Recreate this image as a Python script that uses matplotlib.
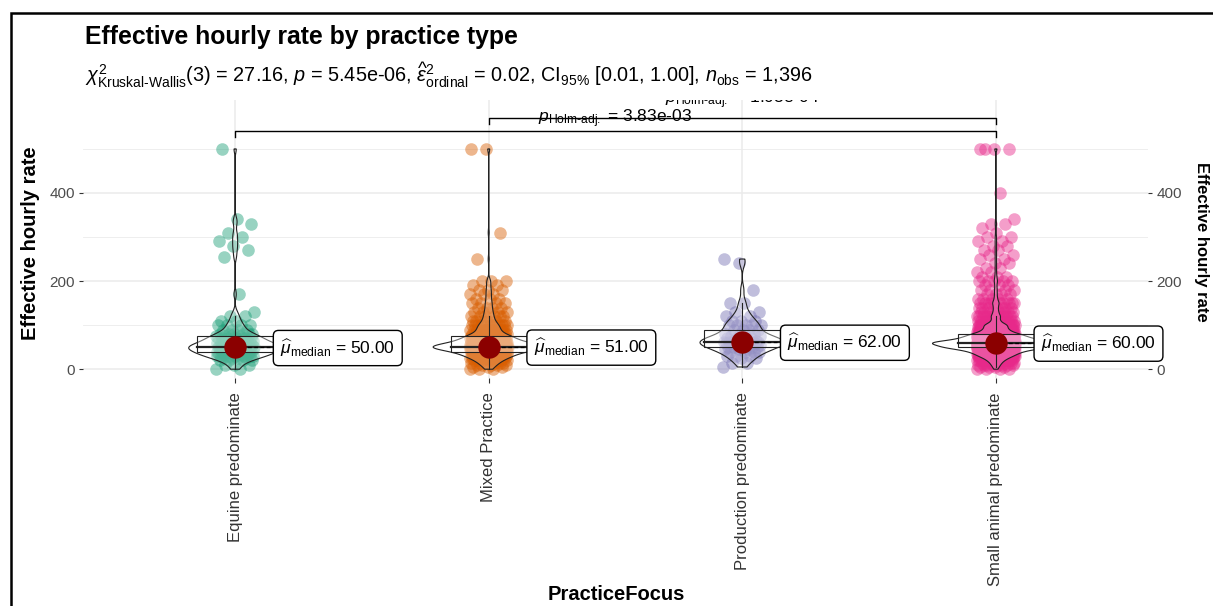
import numpy as np
import matplotlib
matplotlib.use("Agg")
import matplotlib.pyplot as plt
from matplotlib.patches import Rectangle, Polygon

plt.rcParams['font.family'] = ['Liberation Sans', 'DejaVu Sans']
plt.rcParams['mathtext.fontset'] = 'custom'
plt.rcParams['mathtext.rm'] = 'Liberation Sans'
plt.rcParams['mathtext.it'] = 'Liberation Sans:italic'
plt.rcParams['mathtext.bf'] = 'Liberation Sans:bold'
plt.rcParams['mathtext.sf'] = 'Liberation Sans'

# ---------------- data ----------------
categories = ["Equine predominate", "Mixed Practice",
              "Production predominate", "Small animal predominate"]
colors = ["#1B9E77", "#D95F02", "#7570B3", "#E7298A"]

equine_vals = [0, 10, 20, 25, 30, 35, 40, 45, 50, 55, 60, 65, 70, 75, 80, 90, 100,
               110, 120, 130, 170, 255, 270, 280, 290, 300, 310, 330, 340, 500]
equine_counts = [2, 3, 4, 4, 9, 6, 10, 6, 18, 5, 9, 4, 8, 4, 6, 4, 4,
                 2, 2, 1, 1, 1, 1, 1, 1, 1, 1, 1, 1, 1]

mixed_vals = [0, 5, 10, 15, 20, 25, 30, 35, 40, 45, 50, 51, 55, 60, 65, 70, 75, 80,
              90, 100, 110, 120, 130, 140, 150, 160, 170, 180, 190, 200, 250, 310, 500]
mixed_counts = [3, 3, 5, 6, 8, 10, 16, 14, 22, 20, 43, 20, 16, 24, 14, 18, 12, 12,
                14, 12, 7, 6, 5, 4, 4, 3, 3, 3, 2, 3, 1, 1, 2]

prod_vals = [5, 15, 25, 30, 40, 45, 50, 55, 60, 62, 65, 70, 75, 80, 90, 100, 110,
             120, 130, 150, 180, 240, 250]
prod_counts = [1, 2, 2, 3, 4, 3, 5, 3, 4, 8, 3, 4, 3, 3, 4, 5, 3,
               2, 2, 2, 1, 1, 1]

small_vals = [0, 5, 10, 15, 20, 25, 30, 35, 40, 45, 50, 55, 60, 65, 70, 75, 80, 85,
              90, 95, 100, 110, 120, 130, 140, 150, 160, 170, 180, 190, 200, 210,
              220, 230, 240, 250, 260, 270, 280, 290, 300, 310, 320, 330, 340, 400, 500]
small_counts = [4, 4, 8, 8, 14, 16, 30, 28, 44, 42, 110, 50, 150, 41, 60, 40, 40, 15,
                25, 8, 30, 12, 14, 8, 7, 10, 5, 4, 4, 3, 5, 3,
                2, 2, 2, 2, 2, 2, 2, 2, 2, 1, 1, 2, 1, 1, 4]

median_labels = ["50.00", "51.00", "62.00", "60.00"]

subtitle = (r"$\chi^2_{\mathrm{Kruskal\text{-}Wallis}}$(3) = 27.16, $p$ = 5.45e-06, "
            r"$\widehat{\varepsilon}^2_{\mathrm{ordinal}}$ = 0.02, CI$_{95\%}$ [0.01, 1.00], "
            r"$n_{\mathrm{obs}}$ = 1,396")
pairs = [(1, 4), (2, 4)]
pair_labels = [r"$p_{\mathrm{Holm\text{-}adj.}}$ = 3.83e-03",
               r"$p_{\mathrm{Holm\text{-}adj.}}$ = 1.03e-04"]

groups_vals = [equine_vals, mixed_vals, prod_vals, small_vals]
groups_counts = [equine_counts, mixed_counts, prod_counts, small_counts]

# ---------------- figure ----------------
W, H = 1213, 606
fig = plt.figure(figsize=(W / 100, H / 100), dpi=100)
fig.patch.set_facecolor("white")


def fy(y):
    return 1 - y / H


ax = fig.add_axes([83 / W, fy(378), (1148 - 83) / W, (378 - 100) / H])
ax.set_xlim(0.4, 4.6)
ax.set_ylim(-20, 611)
for s in ax.spines.values():
    s.set_visible(False)

ax.set_yticks([0, 200, 400])
ax.set_yticks([100, 300, 500], minor=True)
ax.grid(axis='y', which='major', color='#EBEBEB', lw=1.1, zorder=0)
ax.grid(axis='y', which='minor', color='#EBEBEB', lw=0.6, zorder=0)
ax.grid(axis='x', which='major', color='#EBEBEB', lw=1.1, zorder=0)
ax.set_axisbelow(True)
ax.tick_params(axis='y', which='minor', length=0)
ax.tick_params(axis='y', which='major', length=3, color='#333333', labelcolor='#4D4D4D',
               labelsize=11, pad=3)

ax.set_xticks([1, 2, 3, 4])
ax.set_xticklabels(categories, rotation=90, fontsize=12, color='#333333', va='top')
ax.tick_params(axis='x', length=3.5, color='#333333', pad=7)

all_data = [np.repeat(np.array(v, float), c) for v, c in zip(groups_vals, groups_counts)]


def kde(d):
    n = len(d)
    sd = np.std(d, ddof=1)
    iqr = np.subtract(*np.percentile(d, [75, 25]))
    bw = 0.9 * min(sd, iqr / 1.34) * n ** (-0.2)
    grid = np.linspace(d.min(), d.max(), 512)
    dens = np.exp(-0.5 * ((grid[:, None] - d[None, :]) / bw) ** 2).sum(1) / (n * bw * np.sqrt(2 * np.pi))
    return grid, dens


dens_all = [kde(d) for d in all_data]
dmax = max(dd.max() for _, dd in dens_all)

for i, d in enumerate(all_data):
    cx = i + 1
    n = len(d)
    # jittered points
    jit = ((np.arange(n) * 0.6180339887) % 1 - 0.5) * 0.15
    ax.scatter(cx + jit, d, s=82, color=colors[i], alpha=0.45, linewidths=0, zorder=2)
    # violin
    g, dd = dens_all[i]
    hw = dd / dmax * 0.25
    xs = np.concatenate([cx + hw, (cx - hw)[::-1]])
    ys = np.concatenate([g, g[::-1]])
    ax.add_patch(Polygon(np.column_stack([xs, ys]), closed=True, facecolor=(1, 1, 1, 0.2),
                         edgecolor='#222222', lw=0.8, zorder=3))
    # boxplot
    q1, med, q3 = np.percentile(d, [25, 50, 75])
    iqr = q3 - q1
    lo = d[d >= q1 - 1.5 * iqr].min()
    hi = d[d <= q3 + 1.5 * iqr].max()
    ax.add_patch(Rectangle((cx - 0.15, q1), 0.3, q3 - q1, facecolor=(1, 1, 1, 0.35),
                           edgecolor='#222222', lw=0.8, zorder=4))
    ax.plot([cx - 0.15, cx + 0.15], [med, med], color='#222222', lw=1.6, zorder=4)
    ax.plot([cx, cx], [q3, hi], color='#222222', lw=0.8, zorder=4)
    ax.plot([cx, cx], [lo, q1], color='#222222', lw=0.8, zorder=4)
    # centrality
    ax.plot([cx, cx + 0.16], [med, med], ls=(0, (3, 2)), color='black', lw=0.9, zorder=5)
    ax.scatter([cx], [med], s=260, color='#8B0000', zorder=6, linewidths=0)
    ax.text(cx + 0.178, med - 2, r"$\widehat{\mu}_{\mathrm{median}}$" + " = " + median_labels[i],
            ha='left', va='center', fontsize=12.5, zorder=7,
            bbox=dict(boxstyle='round,pad=0.4,rounding_size=0.3', fc='white', ec='black', lw=1.0))

# pairwise comparison brackets
bracket_y = [541, 570]
label_y = [561, 603]
for (a, b), by, ly, lab in zip(pairs, bracket_y, label_y, pair_labels):
    ax.plot([a, a, b, b], [by - 14, by, by, by - 14], color='black', lw=1.0, zorder=5, clip_on=False)
    ax.text((a + b) / 2, ly, lab, ha='center', va='baseline', fontsize=12.5, zorder=5, clip_on=True)

# secondary axis
ax2 = ax.twinx()
ax2.set_ylim(ax.get_ylim())
ax2.set_yticks([0, 200, 400])
for s in ax2.spines.values():
    s.set_visible(False)
ax2.tick_params(axis='y', length=3, color='#333333', labelcolor='#4D4D4D', labelsize=11, pad=3)

# labels
fig.text(85 / W, fy(44), "Effective hourly rate by practice type", fontsize=17.8,
         fontweight='bold', ha='left', va='baseline')
fig.text(85 / W, fy(82), subtitle, fontsize=14.3, ha='left', va='baseline')
fig.text(31 / W, fy(243), "Effective hourly rate", rotation=90, fontsize=14.5,
         fontweight='bold', ha='center', va='center')
fig.text(1201 / W, fy(242), "Effective hourly rate", rotation=270, fontsize=12,
         fontweight='bold', ha='center', va='center')
fig.text(616 / W, fy(594), "PracticeFocus", fontsize=14.5, fontweight='bold',
         ha='center', va='center')

# frame
fig.add_artist(Rectangle((11 / W, -0.1), 1.2, fy(13) + 0.1, transform=fig.transFigure,
                         fill=False, edgecolor='black', lw=1.8))

fig.savefig("out.png", dpi=100)
